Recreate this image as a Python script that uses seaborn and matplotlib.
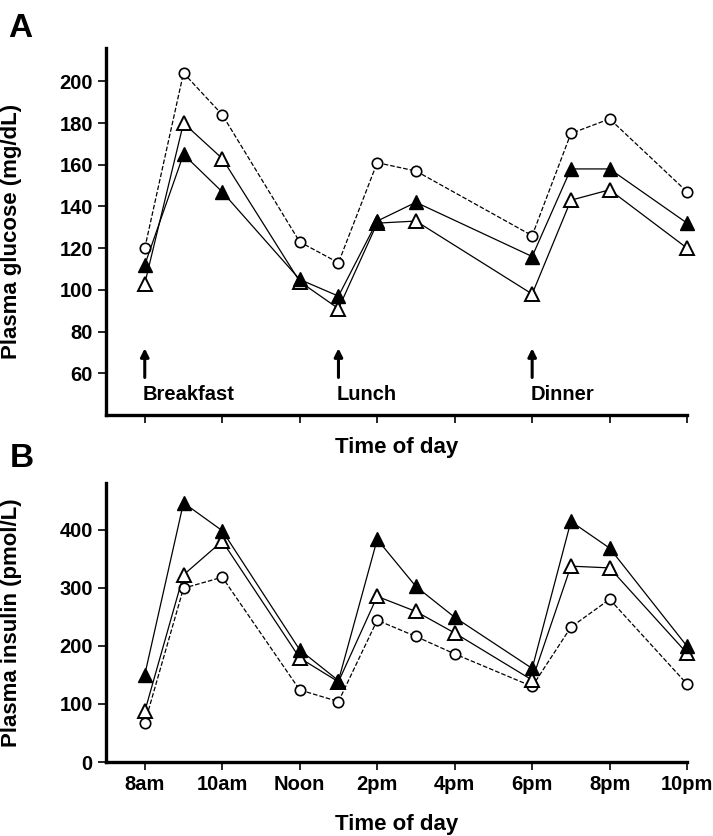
import matplotlib
matplotlib.use("Agg")
import matplotlib.pyplot as plt
import seaborn as sns

# time points (hour of day)
glucose_hours = [8, 9, 10, 12, 13, 14, 15, 18, 19, 20, 22]
glucose_filled_tri = [112, 165, 147, 105, 97, 133, 142, 116, 158, 158, 132]
glucose_open_tri = [103, 180, 163, 104, 91, 132, 133, 98, 143, 148, 120]
glucose_circle = [120, 204, 184, 123, 113, 161, 157, 126, 175, 182, 147]

insulin_hours = [8, 9, 10, 12, 13, 14, 15, 16, 18, 19, 20, 22]
insulin_filled_tri = [150, 446, 398, 193, 140, 383, 302, 249, 161, 414, 368, 199]
insulin_open_tri = [87, 322, 380, 179, 138, 285, 259, 222, 141, 337, 334, 187]
insulin_circle = [67, 299, 318, 124, 104, 244, 216, 186, 130, 232, 280, 134]

tick_hours = [8, 10, 12, 14, 16, 18, 20, 22]
tick_labels = ["8am", "10am", "Noon", "2pm", "4pm", "6pm", "8pm", "10pm"]

meal_hours = [8, 13, 18]
meal_names = ["Breakfast", "Lunch", "Dinner"]

sns.set_style("ticks")
plt.rcParams["font.family"] = ["Liberation Sans", "DejaVu Sans"]
plt.rcParams["font.weight"] = "bold"
for key in ["text.color", "axes.labelcolor", "xtick.color", "ytick.color", "axes.edgecolor"]:
    plt.rcParams[key] = "black"


def draw_series(ax, hours, filled, open_, circle):
    sns.lineplot(x=hours, y=circle, ax=ax, color="black", linestyle="--", lw=0.9,
                 marker="o", markersize=7.5, markerfacecolor="white",
                 markeredgecolor="black", markeredgewidth=1.2, clip_on=False)
    sns.lineplot(x=hours, y=open_, ax=ax, color="black", lw=0.9,
                 marker="^", markersize=10, markerfacecolor="white",
                 markeredgecolor="black", markeredgewidth=1.4, clip_on=False)
    sns.lineplot(x=hours, y=filled, ax=ax, color="black", lw=0.9,
                 marker="^", markersize=10, markerfacecolor="black",
                 markeredgecolor="black", markeredgewidth=1.0, clip_on=False)


def style_axes(ax):
    sns.despine(ax=ax)
    for s in ["left", "bottom"]:
        ax.spines[s].set_linewidth(2.4)
    ax.set_xlim(7, 22)
    ax.set_xticks(tick_hours)
    ax.tick_params(axis="both", direction="out", length=6, width=1.2,
                   labelsize=14.5, colors="black")
    for lab in ax.get_yticklabels():
        lab.set_fontweight("bold")


fig = plt.figure(figsize=(7.13, 8.36), dpi=100)
ax1 = fig.add_axes([0.1487, 0.5036, 0.815, 0.439])
ax2 = fig.add_axes([0.1487, 0.0885, 0.815, 0.3337])

# Panel A: glucose
draw_series(ax1, glucose_hours, glucose_filled_tri, glucose_open_tri, glucose_circle)
style_axes(ax1)
ax1.set_ylim(40, 216)
ax1.set_yticks([60, 80, 100, 120, 140, 160, 180, 200])
ax1.set_xticklabels([])
ax1.set_ylabel("Plasma glucose (mg/dL)", fontsize=16, fontweight="bold")
ax1.yaxis.set_label_coords(-0.145, 0.5)
ax1.set_xlabel("Time of day", fontsize=16, fontweight="bold", labelpad=6)
for h, name in zip(meal_hours, meal_names):
    ax1.annotate("", xy=(h, 72), xytext=(h, 58),
                 arrowprops=dict(arrowstyle="-|>", color="black", lw=2.2,
                                 mutation_scale=12, shrinkA=0, shrinkB=0))
    ax1.text(h - 0.05, 47, name, fontsize=14.5, fontweight="bold",
             ha="left", va="baseline")

# Panel B: insulin
draw_series(ax2, insulin_hours, insulin_filled_tri, insulin_open_tri, insulin_circle)
style_axes(ax2)
ax2.set_ylim(0, 480)
ax2.set_yticks([0, 100, 200, 300, 400])
ax2.set_xticklabels(tick_labels, fontsize=14.5, fontweight="bold")
ax2.set_ylabel("Plasma insulin (pmol/L)", fontsize=16, fontweight="bold")
ax2.yaxis.set_label_coords(-0.145, 0.5)
ax2.set_xlabel("Time of day", fontsize=16, fontweight="bold", labelpad=14)

fig.text(0.012, 0.984, "A", fontsize=24, fontweight="bold", va="top")
fig.text(0.014, 0.47, "B", fontsize=24, fontweight="bold", va="top")

fig.savefig("out.png", dpi=100)
